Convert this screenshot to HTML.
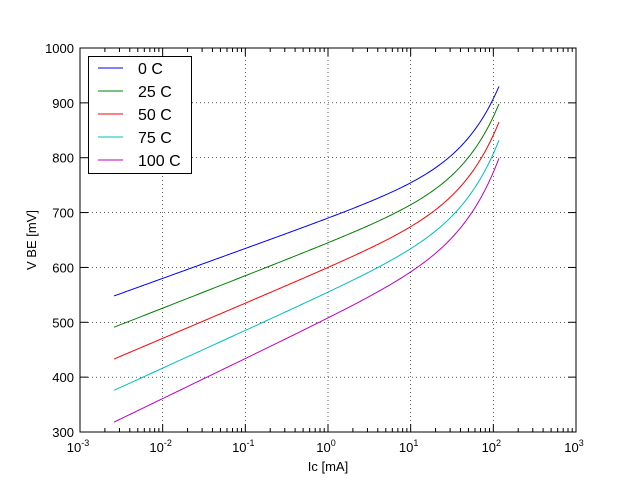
<!DOCTYPE html>
<html><head><meta charset="utf-8"><style>
body{margin:0;background:#fff}
svg{display:block;font-family:"Liberation Sans","DejaVu Sans",sans-serif}
</style></head><body>
<svg id="s" width="640" height="480" xmlns="http://www.w3.org/2000/svg">
<rect width="640" height="480" fill="#fff"/>
<rect x="80" y="48" width="496" height="384" fill="#fff"/>
<g id="g"></g>
<rect x="80" y="48" width="496" height="384" fill="none" stroke="#000" stroke-width="1"/>
<text x="328" y="471" font-size="13" text-anchor="middle">Ic [mA]</text>
<text x="36" y="240" font-size="13" text-anchor="middle" transform="rotate(-90 36 240)">V BE [mV]</text>
<rect x="88.5" y="56.5" width="103" height="117" fill="#fff" stroke="#000"/>
<g font-size="16">
<line x1="98" y1="68" x2="123" y2="68" stroke="#0000ff"/><text x="138" y="74">0 C</text>
<line x1="98" y1="91" x2="123" y2="91" stroke="#008000"/><text x="138" y="97">25 C</text>
<line x1="98" y1="114" x2="123" y2="114" stroke="#ff0000"/><text x="138" y="120">50 C</text>
<line x1="98" y1="137" x2="123" y2="137" stroke="#00bfbf"/><text x="138" y="143">75 C</text>
<line x1="98" y1="160" x2="123" y2="160" stroke="#bf00bf"/><text x="138" y="166">100 C</text>
</g>
</svg>
<script>
var g=document.getElementById('g'),h='';
function X(l){return 80+(l+3)*496/6}
function Y(v){return 432-(v-300)*384/700}
// grid
for(var d=-3;d<=3;d++){var x=X(d);
 h+='<line x1="'+x+'" y1="48" x2="'+x+'" y2="432" stroke="#000" stroke-dasharray="1,3" stroke-width="0.6"/>';
 h+='<line x1="'+x+'" y1="432" x2="'+x+'" y2="424" stroke="#000"/><line x1="'+x+'" y1="48" x2="'+x+'" y2="56" stroke="#000"/>';
 h+='<text x="'+(x-2)+'" y="452" font-size="13" text-anchor="middle">10<tspan font-size="9" dy="-6">'+(d<0?'-':'')+Math.abs(d)+'</tspan></text>';
 if(d<3)for(var k=2;k<10;k++){var xm=X(d+Math.log10(k));
  h+='<line x1="'+xm+'" y1="432" x2="'+xm+'" y2="428" stroke="#000"/><line x1="'+xm+'" y1="48" x2="'+xm+'" y2="52" stroke="#000"/>';}
}
for(var v=300;v<=1000;v+=100){var y=Y(v);
 h+='<line x1="80" y1="'+y+'" x2="576" y2="'+y+'" stroke="#000" stroke-dasharray="1,3" stroke-width="0.6"/>';
 h+='<line x1="80" y1="'+y+'" x2="88" y2="'+y+'" stroke="#000"/><line x1="576" y1="'+y+'" x2="568" y2="'+y+'" stroke="#000"/>';
 h+='<text x="74" y="'+(y+5)+'" font-size="13" text-anchor="end">'+v+'</text>';}
function solve(A,b){var n=3;for(var i=0;i<n;i++){for(var j=i+1;j<n;j++){var f=A[j][i]/A[i][i];for(var k=i;k<n;k++)A[j][k]-=f*A[i][k];b[j]-=f*b[i];}}
 var x=[0,0,0];for(var i=n-1;i>=0;i--){var s=b[i];for(var k=i+1;k<n;k++)s-=A[i][k]*x[k];x[i]=s/A[i][i];}return x;}
var I0=0.00258,I2=117;
var C=[['#0000ff',548,690,930],['#008000',491,645,898],['#ff0000',433,600,865],['#00bfbf',376,555,832],['#bf00bf',318,508,799]];
C.forEach(function(c){
 var p=solve([[1,Math.log10(I0),I0],[1,0,1],[1,Math.log10(I2),I2]],[c[1],c[2],c[3]]);
 var pts=[];for(var i=0;i<=200;i++){var l=Math.log10(I0)+(Math.log10(I2)-Math.log10(I0))*i/200,I=Math.pow(10,l);
  var v=p[0]+p[1]*l+p[2]*I;pts.push(X(l).toFixed(2)+','+Y(v).toFixed(2));}
 h+='<polyline points="'+pts.join(' ')+'" fill="none" stroke="'+c[0]+'" stroke-width="1"/>';
});
g.innerHTML=h;
</script>
</body></html>
